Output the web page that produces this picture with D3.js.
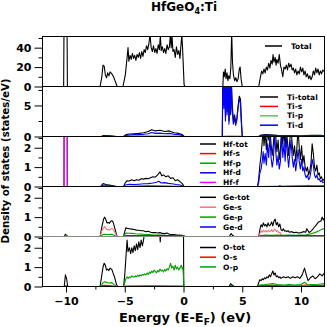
<!DOCTYPE html>
<html>
<head>
<meta charset="utf-8">
<script src="https://cdn.jsdelivr.net/npm/d3@7"></script>
<style>
  body { margin: 0; background: #fff; }
  text { font-family: "DejaVu Sans", sans-serif; font-weight: bold; }
</style>
</head>
<body>
<div id="chart"></div>
<script>

// ---- data: [energy (eV), DOS] ----
var totalDos = [[-12,0],[-10.2,0],[-10.16,80],[-9.92,80],[-9.88,0],
  [-7.1,0],[-6.95,10],[-6.85,22],[-6.75,21],[-6.65,12],[-6.55,9],[-6.45,14],[-6.35,11],[-6.25,15],[-6.1,13],[-5.95,10],[-5.8,5],[-5.65,0],
  [-5.15,0],[-4.95,12],[-4.8,30],[-4.72,40],[-4.65,26],[-4.55,32],[-4.45,28],[-4.35,34],[-4.25,29],[-4.15,32],[-4.05,27],[-3.95,33],[-3.85,30],[-3.75,35],[-3.65,29],[-3.55,36],[-3.45,31],[-3.35,38],[-3.25,35],[-3.15,42],[-3.05,38],[-2.95,44],[-2.85,53],[-2.75,40],[-2.65,36],[-2.55,42],[-2.45,35],[-2.35,39],[-2.25,34],[-2.15,43],[-2.05,38],[-1.97,53],[-1.9,37],[-1.8,41],[-1.7,35],[-1.6,39],[-1.5,34],[-1.4,43],[-1.3,38],[-1.2,41],[-1.12,53],[-1.05,40],[-0.98,53],[-0.9,36],[-0.8,38],[-0.7,30],[-0.6,41],[-0.5,33],[-0.4,37],[-0.3,29],[-0.2,45],[-0.14,53],[-0.08,40],[0.05,2],[0.1,0],
  [3.35,0],[3.4,15],[3.47,10],[3.55,18],[3.62,8],[3.7,14],[3.78,6],[3.85,11],[3.95,8],[4.03,20],[4.1,56],[4.17,25],[4.25,12],[4.35,6],[4.45,9],[4.55,5],[4.65,8],[4.75,18],[4.82,20],[4.9,8],[5.0,0],
  [6.4,0],[6.55,10],[6.65,16],[6.75,13],[6.85,18],[6.95,14],[7.05,20],[7.15,17],[7.25,24],[7.35,19],[7.45,27],[7.55,23],[7.62,33],[7.7,25],[7.8,30],[7.88,22],[7.95,28],[8.05,24],[8.15,33],[8.25,22],[8.35,17],[8.45,10],[8.55,20],[8.65,18],[8.75,22],[8.85,17],[8.95,24],[9.05,20],[9.15,23],[9.25,17],[9.35,19],[9.45,14],[9.55,18],[9.65,12],[9.75,16],[9.85,13],[9.95,20],[10.05,15],[10.15,19],[10.25,12],[10.35,16],[10.45,10],[10.55,13],[10.65,8],[10.75,11],[10.85,7],[10.95,10],[11.05,16],[11.15,12],[11.25,19],[11.35,14],[11.45,18],[11.55,12],[11.65,16],[11.75,13],[11.85,17],[12,15]];

var tiTotal = [[-12,0],[-7.0,0],[-6.8,0.15],[-6.3,0.1],[-5.7,0],[-5.1,0],[-4.9,0.3],[-4.6,0.4],[-4.2,0.45],[-3.8,0.5],[-3.4,0.6],[-3.0,0.8],[-2.7,1.1],[-2.4,0.9],[-2.0,1.0],[-1.6,0.8],[-1.2,0.9],[-0.8,0.6],[-0.4,0.5],[-0.1,0.3],[0.05,0],
  [3.3,0],[3.34,9],[3.44,5],[3.5,9],[3.58,3],[3.64,9],[3.72,4],[3.79,9],[3.88,2.5],[3.94,9],[4.02,4],[4.07,9],[4.15,5],[4.25,2.5],[4.35,3.5],[4.45,2.2],[4.55,3],[4.65,5],[4.75,6.5],[4.85,6],[4.92,3],[5.0,0],
  [6.4,0],[6.6,0.25],[7,0.3],[8,0.2],[9,0.15],[10,0.1],[10.9,0.2],[11.7,0.2],[12,0.1]];
var tiS = [[-12,0],[-5.0,0],[-4.5,0.03],[-3,0.05],[-1,0.04],[0,0],[3.3,0],[3.6,0.05],[4.9,0.03],[5.0,0],[12,0]];
var tiP = [[-12,0],[-5.0,0],[-4.5,0.05],[-3,0.08],[-1,0.06],[0,0],[3.3,0],[4.0,0.05],[5.0,0],[6.4,0],[9,0.04],[12,0.02]];
var tiD = [[-12,0],[-7.0,0],[-6.8,0.1],[-6.3,0.06],[-5.7,0],[-5.1,0],[-4.9,0.15],[-4.6,0.25],[-4.2,0.3],[-3.8,0.3],[-3.4,0.35],[-3.0,0.45],[-2.7,0.65],[-2.4,0.5],[-2.0,0.55],[-1.6,0.45],[-1.2,0.5],[-0.8,0.35],[-0.4,0.3],[-0.1,0.15],[0.05,0],
  [3.3,0],[3.35,9],[3.44,4.5],[3.5,9],[3.57,2.5],[3.64,9],[3.71,3.5],[3.79,9],[3.87,2],[3.94,9],[4.01,3.5],[4.07,9],[4.14,4.5],[4.24,2],[4.34,3],[4.44,1.8],[4.54,2.6],[4.64,4.5],[4.74,6],[4.84,5.5],[4.91,2.5],[5.0,0],
  [6.4,0],[6.6,0.15],[7,0.2],[8,0.15],[9,0.1],[10,0.08],[10.9,0.15],[11.7,0.15],[12,0.08]];

var hfTot = [[-12,0],[-10.17,0],[-10.14,12],[-9.92,12],[-9.89,0],
  [-7.05,0],[-6.85,0.15],[-6.6,0.1],[-6.3,0.08],[-5.7,0],[-5.1,0],[-4.95,0.2],[-4.8,0.3],[-4.6,0.28],[-4.4,0.35],[-4.2,0.3],[-4.0,0.35],[-3.8,0.32],[-3.6,0.4],[-3.4,0.38],[-3.2,0.42],[-3.0,0.4],[-2.8,0.45],[-2.6,0.5],[-2.4,0.48],[-2.2,0.6],[-2.0,0.75],[-1.85,0.55],[-1.7,0.6],[-1.5,0.5],[-1.3,0.55],[-1.1,0.42],[-0.9,0.45],[-0.7,0.3],[-0.5,0.35],[-0.3,0.25],[-0.1,0.15],[0.05,0],
  [6.3,0],[6.4,0.4],[6.5,1.1],[6.6,1.6],[6.7,2.3],[6.78,3],[6.85,2.1],[6.95,2.8],[7.05,1.9],[7.15,3],[7.25,2.4],[7.35,3],[7.45,2.2],[7.55,1.6],[7.65,2.2],[7.75,3],[7.85,2.6],[7.95,1.8],[8.05,2.4],[8.15,1.4],[8.25,1.9],[8.35,3],[8.45,2.2],[8.55,2.9],[8.65,2.0],[8.75,3],[8.85,2.3],[8.95,1.6],[9.05,2.4],[9.15,3],[9.25,2.2],[9.35,1.6],[9.45,2.1],[9.55,1.3],[9.65,2.0],[9.75,3],[9.85,2.0],[9.95,1.4],[10.05,2.1],[10.15,1.2],[10.25,1.6],[10.35,1.0],[10.45,0.8],[10.55,1.0],[10.65,0.6],[10.75,0.8],[10.85,1.2],[10.95,2.2],[11.05,1.7],[11.15,1.0],[11.25,0.8],[11.35,1.1],[11.45,0.6],[11.55,0.7],[11.65,0.4],[11.75,0.5],[11.85,0.3],[12,0.4]];
var hfS = [[-12,0],[-5,0],[-3,0.02],[0,0],[6.4,0],[8.1,0],[8.2,0.05],[8.3,0],[10.4,0.02],[10.6,0.06],[10.8,0.02],[12,0.02]];
var hfP = [[-12,0],[-5,0],[-3,0.03],[0,0],[6.4,0],[9,0.02],[10.5,0.05],[11,0.03],[12,0.05]];
var hfD = [[-12,0],[-7.05,0],[-6.85,0.08],[-6.5,0.05],[-5.7,0],[-5.1,0],[-4.95,0.08],[-4.6,0.12],[-4.2,0.1],[-3.8,0.12],[-3.4,0.14],[-3.0,0.15],[-2.6,0.18],[-2.3,0.22],[-2.1,0.27],[-1.9,0.18],[-1.6,0.2],[-1.3,0.16],[-1.0,0.14],[-0.6,0.1],[-0.3,0.08],[0.05,0],
  [6.3,0],[6.4,0.2],[6.5,0.7],[6.6,0.9],[6.7,1.3],[6.78,1.8],[6.85,1.2],[6.95,1.7],[7.05,1.1],[7.15,2.2],[7.25,1.5],[7.35,2.6],[7.45,1.5],[7.55,1.0],[7.65,1.4],[7.75,2.7],[7.85,1.8],[7.95,1.1],[8.05,1.6],[8.15,0.9],[8.25,1.3],[8.35,2.7],[8.45,1.5],[8.55,2.2],[8.65,1.3],[8.75,2.6],[8.85,1.6],[8.95,1.0],[9.05,1.7],[9.15,2.4],[9.25,1.5],[9.35,1.0],[9.45,1.4],[9.55,0.8],[9.65,1.3],[9.75,1.9],[9.85,1.3],[9.95,0.9],[10.05,1.4],[10.15,0.8],[10.25,1.0],[10.35,0.6],[10.45,0.45],[10.55,0.6],[10.65,0.35],[10.75,0.45],[10.85,0.8],[10.95,1.4],[11.05,1.1],[11.15,0.6],[11.25,0.45],[11.35,0.6],[11.45,0.35],[11.55,0.4],[11.65,0.25],[11.75,0.3],[11.85,0.2],[12,0.25]];
var hfF = [[-12,0],[-10.17,0],[-10.14,12],[-9.92,12],[-9.89,0],[12,0]];

var geTot = [[-12,0],[-10.15,0],[-10.05,0.12],[-9.95,0.05],[-9.85,0],
  [-7.1,0],[-6.95,0.5],[-6.8,0.9],[-6.7,1.0],[-6.6,0.85],[-6.5,0.7],[-6.4,0.72],[-6.3,0.68],[-6.2,0.78],[-6.1,0.82],[-6.0,0.75],[-5.9,0.55],[-5.75,0.2],[-5.65,0],
  [-5.1,0],[-5.0,0.25],[-4.9,0.45],[-4.8,0.42],[-4.6,0.4],[-4.4,0.38],[-4.2,0.36],[-4.0,0.33],[-3.8,0.32],[-3.6,0.3],[-3.4,0.3],[-3.2,0.25],[-3.0,0.27],[-2.8,0.22],[-2.6,0.2],[-2.4,0.21],[-2.2,0.18],[-2.0,0.2],[-1.8,0.16],[-1.6,0.15],[-1.4,0.18],[-1.2,0.12],[-1.0,0.1],[-0.8,0.1],[-0.6,0.08],[-0.4,0.07],[-0.2,0.06],[0,0.05],[0.1,0],
  [3.9,0],[4.05,0.15],[4.2,0.05],[4.3,0],
  [6.4,0],[6.5,0.35],[6.6,0.6],[6.7,0.5],[6.8,0.7],[6.9,0.55],[7.0,0.62],[7.1,0.5],[7.2,0.7],[7.3,0.55],[7.4,0.6],[7.5,0.75],[7.6,0.55],[7.7,0.8],[7.8,0.9],[7.9,0.6],[8.0,0.72],[8.1,0.5],[8.2,0.65],[8.3,0.35],[8.4,0.3],[8.5,0.4],[8.6,0.28],[8.7,0.3],[8.8,0.25],[8.9,0.3],[9.0,0.22],[9.2,0.25],[9.4,0.2],[9.6,0.22],[9.8,0.18],[10.0,0.2],[10.2,0.25],[10.4,0.22],[10.5,0.4],[10.6,0.3],[10.7,0.2],[10.9,0.3],[11.1,0.45],[11.3,0.6],[11.5,0.75],[11.7,0.8],[11.8,1.0],[11.9,0.85],[12,0.95]];
var geS = [[-12,0],[-10.1,0],[-10.02,0.03],[-9.9,0],[-7.1,0],[-6.95,0.3],[-6.8,0.45],[-6.7,0.52],[-6.6,0.42],[-6.5,0.35],[-6.4,0.36],[-6.3,0.33],[-6.2,0.38],[-6.1,0.42],[-6.0,0.38],[-5.9,0.28],[-5.75,0.1],[-5.65,0],
  [-5.1,0],[-4.9,0.05],[-4,0.04],[-2,0.03],[0,0.02],[0.1,0],
  [6.4,0],[6.5,0.15],[6.6,0.3],[6.7,0.22],[6.8,0.32],[6.9,0.25],[7.0,0.3],[7.1,0.22],[7.2,0.32],[7.3,0.25],[7.4,0.28],[7.5,0.35],[7.6,0.25],[7.7,0.33],[7.8,0.38],[7.9,0.25],[8.0,0.3],[8.1,0.2],[8.2,0.22],[8.3,0.08],[8.5,0.05],[9,0.04],[10,0.03],[10.5,0.05],[11,0.03],[12,0.04]];
var geP = [[-12,0],[-10.1,0],[-10.0,0.05],[-9.9,0],[-7.1,0],[-6.8,0.12],[-6.5,0.1],[-6.1,0.12],[-5.7,0],
  [-5.1,0],[-5.0,0.1],[-4.9,0.18],[-4.7,0.17],[-4.4,0.16],[-4.1,0.14],[-3.8,0.13],[-3.5,0.12],[-3.2,0.1],[-2.9,0.1],[-2.6,0.08],[-2.3,0.08],[-2.0,0.07],[-1.6,0.06],[-1.2,0.05],[-0.8,0.04],[-0.4,0.03],[0,0.02],[0.1,0],
  [6.4,0],[6.6,0.05],[7,0.08],[7.5,0.06],[8,0.08],[8.5,0.06],[9,0.07],[9.5,0.06],[10,0.07],[10.4,0.08],[10.6,0.12],[10.9,0.15],[11.2,0.2],[11.5,0.28],[11.8,0.38],[12,0.4]];
var geD = [[-12,0],[-5.1,0],[-4.9,0.03],[-2,0.03],[0,0.02],[0.1,0],[6.4,0],[6.6,0.02],[9,0.02],[10,0.03],[12,0.03]];

var oTot = [[-12,0],[-10.15,0],[-10.05,0.6],[-9.95,0.4],[-9.85,0],
  [-7.1,0],[-6.95,0.6],[-6.85,1.0],[-6.75,1.2],[-6.65,1.1],[-6.55,0.85],[-6.45,0.9],[-6.35,0.82],[-6.25,0.95],[-6.1,0.88],[-6.0,0.7],[-5.85,0.45],[-5.7,0.1],[-5.6,0],
  [-5.1,0],[-5.0,0.6],[-4.9,1.5],[-4.8,2.4],[-4.72,1.8],[-4.6,2.0],[-4.5,1.7],[-4.4,2.0],[-4.3,1.75],[-4.2,2.1],[-4.1,1.85],[-4.0,2.2],[-3.9,1.9],[-3.8,2.3],[-3.7,2.0],[-3.6,2.4],[-3.5,2.1],[-3.4,2.4],[-3.3,2.9],[-3.2,3],[-2.05,3],[-1.98,2.3],[-1.9,3],[0,3],[0.02,0],
  [3.9,0],[4.0,0.15],[4.1,0.1],[4.2,0.05],[4.3,0],
  [6.3,0],[6.4,0.2],[6.5,0.35],[6.6,0.3],[6.7,0.4],[6.8,0.35],[6.9,0.45],[7.0,0.4],[7.1,0.5],[7.2,0.45],[7.3,0.6],[7.4,0.5],[7.5,0.65],[7.6,0.8],[7.7,0.6],[7.8,0.7],[7.9,0.5],[8.0,0.55],[8.1,0.45],[8.2,0.5],[8.3,0.42],[8.5,0.5],[8.7,0.45],[8.9,0.5],[9.1,0.42],[9.3,0.5],[9.5,0.45],[9.7,0.5],[9.9,0.42],[10.1,0.6],[10.3,0.95],[10.45,0.6],[10.6,0.3],[10.8,0.45],[11.0,0.55],[11.2,0.4],[11.4,0.5],[11.6,0.65],[11.8,0.55],[12,0.7]];
var oS = [[-12,0],[-10.1,0],[-10.0,0.03],[-9.9,0],[-7.1,0],[-6.8,0.06],[-6.3,0.05],[-5.7,0],[-5.1,0],[-4.9,0.02],[-3,0.03],[0,0.02],[0.05,0],[6.3,0],[6.6,0.05],[7.5,0.06],[8.5,0.04],[10,0.05],[10.4,0.08],[11,0.05],[12,0.06]];
var oP = [[-12,0],[-10.1,0],[-10.0,0.05],[-9.9,0],
  [-7.05,0],[-6.85,0.2],[-6.7,0.25],[-6.5,0.2],[-6.3,0.18],[-6.1,0.2],[-5.9,0.1],[-5.7,0],
  [-5.1,0],[-5.0,0.2],[-4.9,0.4],[-4.8,0.5],[-4.7,0.42],[-4.6,0.5],[-4.5,0.45],[-4.4,0.55],[-4.3,0.5],[-4.2,0.48],[-4.1,0.55],[-4.0,0.5],[-3.9,0.58],[-3.8,0.52],[-3.7,0.6],[-3.6,0.55],[-3.5,0.62],[-3.4,0.58],[-3.3,0.65],[-3.2,0.6],[-3.1,0.7],[-3.0,0.62],[-2.9,0.75],[-2.8,0.68],[-2.7,0.8],[-2.6,0.72],[-2.5,0.85],[-2.4,0.78],[-2.3,0.7],[-2.2,0.82],[-2.1,0.75],[-2.0,0.9],[-1.9,0.8],[-1.8,0.85],[-1.7,0.75],[-1.6,0.88],[-1.5,0.8],[-1.4,0.92],[-1.3,0.85],[-1.2,1.0],[-1.1,1.2],[-1.0,0.95],[-0.9,1.05],[-0.8,0.85],[-0.7,1.1],[-0.6,0.9],[-0.5,1.0],[-0.4,0.85],[-0.3,0.95],[-0.2,1.1],[-0.1,0.9],[-0.05,1.0],[0.05,0],
  [3.9,0],[4.05,0.06],[4.2,0],
  [6.3,0],[6.5,0.08],[7,0.1],[7.6,0.15],[8,0.1],[8.5,0.08],[9,0.1],[9.5,0.08],[10,0.1],[10.3,0.22],[10.5,0.12],[11,0.1],[11.5,0.12],[12,0.15]];

var xTicks = [-10, -5, 0, 5, 10];
var xMinor = [-7.5, -2.5, 2.5, 7.5];

// ---- layout ----
var W = 327, H = 327;
var left = 42.5, right = 324.5, top0 = 36.5, panelH = 50;

var svg = d3.select("#chart").append("svg")
    .attr("width", W)
    .attr("height", H);

var x = d3.scaleLinear().domain([-12, 12]).range([left, right]);

var panels = [
  { yMax: 51.5, ticks: [0, 20, 40], minor: [10, 30, 50],
    series: [{ d: totalDos, c: "#000", n: "Total" }],
    leg: { x1: 265, x2: 282, tx: 291, y: 46, dy: 9.4 } },
  { yMax: 8.06, ticks: [0, 5], minor: [2.5, 7.5],
    series: [{ d: tiTotal, c: "#000", n: "Ti-total" }, { d: tiS, c: "#ff0000", n: "Ti-s" },
             { d: tiP, c: "#66c066", n: "Ti-p" }, { d: tiD, c: "#0000ff", n: "Ti-d" }],
    leg: { x1: 260, x2: 278, tx: 287, y: 97, dy: 9.4 } },
  { yMax: 2.58, ticks: [0, 1, 2], minor: [0.5, 1.5, 2.5],
    series: [{ d: hfTot, c: "#000", n: "Hf-tot" }, { d: hfS, c: "#ff0000", n: "Hf-s" },
             { d: hfP, c: "#00a000", n: "Hf-p" }, { d: hfD, c: "#0000ff", n: "Hf-d" },
             { d: hfF, c: "#ff00ff", n: "Hf-f" }],
    leg: { x1: 200, x2: 216, tx: 223, y: 144, dy: 9.6 } },
  { yMax: 2.58, ticks: [0, 1, 2], minor: [0.5, 1.5, 2.5],
    series: [{ d: geTot, c: "#000", n: "Ge-tot" }, { d: geS, c: "#ff7070", n: "Ge-s" },
             { d: geP, c: "#00a000", n: "Ge-p" }, { d: geD, c: "#0000ff", n: "Ge-d" }],
    leg: { x1: 200, x2: 216, tx: 223, y: 197.3, dy: 9.9 } },
  { yMax: 2.58, ticks: [0, 1, 2], minor: [0.5, 1.5, 2.5],
    series: [{ d: oTot, c: "#000", n: "O-tot" }, { d: oS, c: "#ff0000", n: "O-s" },
             { d: oP, c: "#00a000", n: "O-p" }],
    leg: { x1: 200, x2: 216, tx: 223, y: 247.5, dy: 9.7 } }
];

panels.forEach(function (p, i) {
  var top = top0 + i * panelH;
  var y = d3.scaleLinear().domain([0, p.yMax]).range([top + panelH, top]);

  svg.append("clipPath").attr("id", "clip" + i)
    .append("rect")
    .attr("x", left).attr("y", top)
    .attr("width", right - left).attr("height", panelH);

  var line = d3.line()
      .x(function (d) { return x(d[0]); })
      .y(function (d) { return y(d[1]); });

  var g = svg.append("g").attr("clip-path", "url(#clip" + i + ")");
  p.series.forEach(function (s) {
    g.append("path")
      .attr("d", line(s.d))
      .attr("fill", "none")
      .attr("stroke", s.c)
      .attr("stroke-width", 1.1)
      .attr("stroke-linejoin", "round");
  });

  // y axis, major + minor
  var ya = svg.append("g")
    .attr("transform", "translate(" + left + ",0)")
    .call(d3.axisLeft(y).tickValues(p.ticks).tickSize(8).tickPadding(3).tickFormat(d3.format("d")));
  ya.select(".domain").remove();
  ya.selectAll("text").style("font-size", "11px").attr("font-family", null);
  ya.selectAll("line").attr("stroke", "#000");

  var ym = svg.append("g")
    .attr("transform", "translate(" + left + ",0)")
    .call(d3.axisLeft(y).tickValues(p.minor).tickSize(4).tickFormat(""));
  ym.select(".domain").remove();

  // legend
  p.series.forEach(function (s, k) {
    var ly = p.leg.y + k * p.leg.dy;
    svg.append("line")
      .attr("x1", p.leg.x1).attr("x2", p.leg.x2)
      .attr("y1", ly).attr("y2", ly)
      .attr("stroke", s.c).attr("stroke-width", 1.5);
    svg.append("text")
      .attr("x", p.leg.tx).attr("y", ly)
      .attr("dy", "0.35em")
      .style("font-size", "7.5px")
      .text(s.n);
  });
});

// frame and panel separators
svg.append("rect")
  .attr("x", left).attr("y", top0)
  .attr("width", right - left).attr("height", panelH * 5)
  .attr("fill", "none").attr("stroke", "#000");
for (var k = 1; k < 5; k++) {
  svg.append("line")
    .attr("x1", left).attr("x2", right)
    .attr("y1", top0 + k * panelH).attr("y2", top0 + k * panelH)
    .attr("stroke", k === 4 ? "#888" : "#000");
}

// x axis
var bottom = top0 + 5 * panelH;
var xa = svg.append("g")
  .attr("transform", "translate(0," + bottom + ")")
  .call(d3.axisBottom(x).tickValues(xTicks).tickSize(6).tickPadding(5).tickFormat(d3.format("d")));
xa.select(".domain").remove();
xa.selectAll("text").style("font-size", "11px").attr("font-family", null);
var xm = svg.append("g")
  .attr("transform", "translate(0," + bottom + ")")
  .call(d3.axisBottom(x).tickValues(xMinor).tickSize(3).tickFormat(""));
xm.select(".domain").remove();

// axis titles
var xl = svg.append("text")
  .attr("x", 185).attr("y", 321.5)
  .attr("text-anchor", "middle")
  .style("font-size", "13px");
xl.append("tspan").text("Energy (E-E");
xl.append("tspan").attr("dy", 3).style("font-size", "9px").text("F");
xl.append("tspan").attr("dy", -3).text(") (eV)");

svg.append("text")
  .attr("transform", "translate(9,161) rotate(-90)")
  .attr("text-anchor", "middle")
  .style("font-size", "10.2px")
  .text("Density of states (states/eV)");

var title = svg.append("text")
  .attr("x", 184).attr("y", 11)
  .attr("text-anchor", "middle")
  .style("font-size", "12px");
title.append("tspan").text("HfGeO");
title.append("tspan").attr("dy", 3).style("font-size", "8px").text("4");
title.append("tspan").attr("dy", -3).text(":Ti");

</script>
</body>
</html>
